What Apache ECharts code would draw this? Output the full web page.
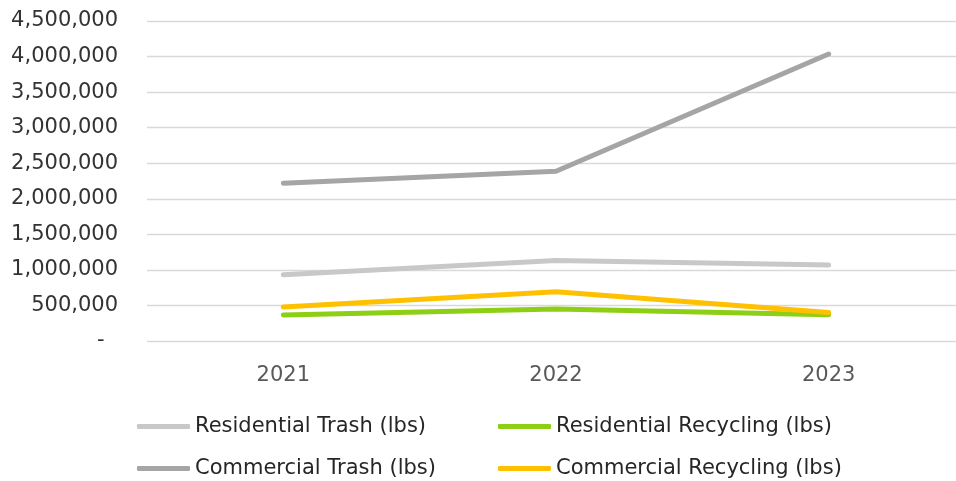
<!DOCTYPE html>
<html>
<head>
<meta charset="utf-8">
<script src="https://cdn.jsdelivr.net/npm/echarts@6/dist/echarts.min.js"></script>
<style>
  html, body { margin: 0; padding: 0; background: #ffffff; overflow: hidden; }
  /* the plot runs a few pixels past the right edge of the window */
  #chart { width: 965px; height: 481px; }
</style>
</head>
<body>
<div id="chart"></div>
<script>
// Waste collected per year, in pounds
const years = ['2021', '2022', '2023'];
const residentialTrash = [931000, 1132000, 1067000];
const residentialRecycling = [365000, 449000, 369000];
const commercialTrash = [2219000, 2388000, 4035000];
const commercialRecycling = [478000, 692000, 402000];

const seriesNames = [
  'Residential Trash (lbs)',
  'Residential Recycling (lbs)',
  'Commercial Trash (lbs)',
  'Commercial Recycling (lbs)'
];
const seriesColors = ['#C8C8C8', '#8CCF14', '#A5A5A5', '#FFC000'];
const seriesData = [residentialTrash, residentialRecycling, commercialTrash, commercialRecycling];

const FONT = '"DejaVu Sans", "Noto Sans", sans-serif';

// one legend block per entry, laid out as a 2x2 grid under the plot
const legendSpots = [
  { left: 137, top: 416 },
  { left: 498, top: 416 },
  { left: 137, top: 458 },
  { left: 498, top: 458 }
];

const chart = echarts.init(document.getElementById('chart'), null, { renderer: 'canvas' });

chart.setOption({
  animation: false,
  backgroundColor: '#ffffff',
  grid: { left: 147, right: 0, top: 21, bottom: 140, containLabel: false },
  legend: seriesNames.map((name, i) => ({
    data: [name],
    left: legendSpots[i].left,
    top: legendSpots[i].top,
    padding: 0,
    icon: 'roundRect',
    itemWidth: 53,
    itemHeight: 5,
    textStyle: { fontFamily: FONT, fontSize: 21, color: '#262626' }
  })),
  xAxis: {
    type: 'category',
    data: years,
    boundaryGap: true,
    axisLine: { show: false },
    axisTick: { show: false },
    axisLabel: { fontFamily: FONT, fontSize: 21, color: '#595959', margin: 24 }
  },
  yAxis: {
    type: 'value',
    min: 0,
    max: 4500000,
    interval: 500000,
    axisLine: { show: false },
    axisTick: { show: false },
    splitLine: { lineStyle: { color: '#D9D9D9', width: 1.3 } },
    axisLabel: {
      fontFamily: FONT,
      fontSize: 21,
      color: '#333333',
      margin: 29,
      formatter: v => v === 0 ? '-  ' : v.toLocaleString('en-US')
    }
  },
  series: seriesNames.map((name, i) => ({
    name,
    type: 'line',
    data: seriesData[i],
    color: seriesColors[i],
    showSymbol: false,
    symbol: 'none',
    lineStyle: { width: 5, color: seriesColors[i], cap: 'round', join: 'round' }
  }))
});
</script>
</body>
</html>
